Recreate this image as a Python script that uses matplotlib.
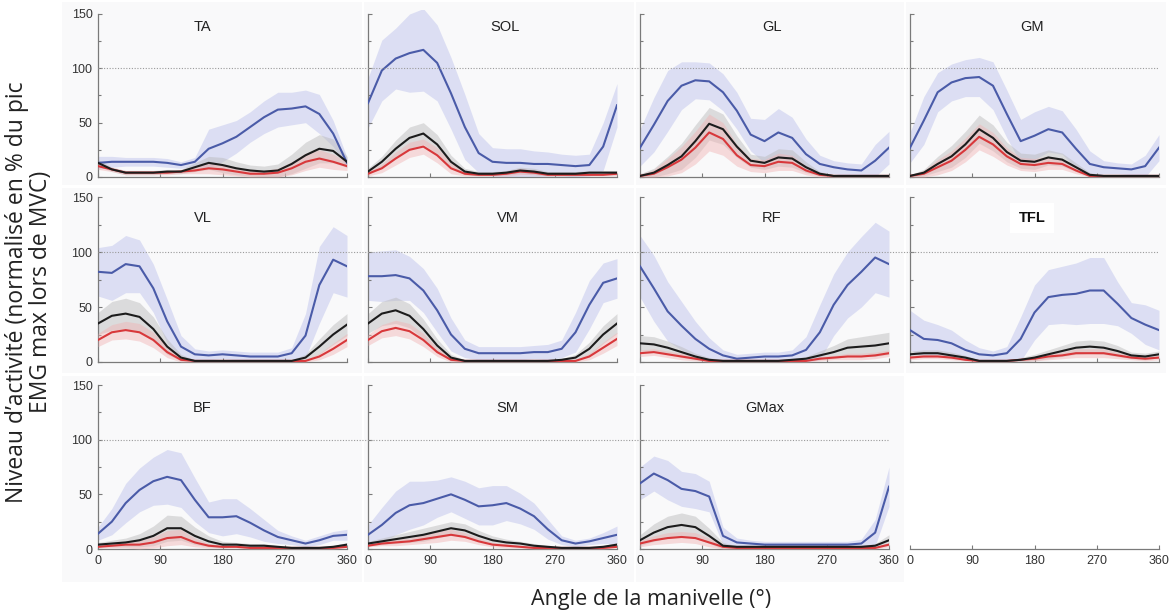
import matplotlib
matplotlib.use("Agg")
import matplotlib.pyplot as plt
from matplotlib.patches import Rectangle
from matplotlib.lines import Line2D
import numpy as np

ANGLE = list(range(0, 361, 20))
MUSCLES = ["TA", "SOL", "GL", "GM", "VL", "VM", "RF", "TFL", "BF", "SM", "GMax"]

TA_blue = [13, 14, 14, 14, 14, 13, 11, 14, 26, 31, 37, 46, 55, 62, 63, 65, 58, 40, 13]
TA_blue_sd = [6, 5, 4, 4, 4, 4, 3, 4, 18, 17, 15, 14, 15, 16, 15, 15, 18, 12, 5]
TA_black = [13, 7, 4, 4, 4, 5, 5, 9, 13, 11, 8, 6, 5, 6, 12, 20, 26, 24, 14]
TA_black_sd = [3, 2, 2, 2, 2, 2, 2, 4, 6, 7, 6, 5, 5, 6, 9, 12, 13, 11, 5]
TA_red = [10, 7, 4, 4, 4, 4, 5, 6, 8, 7, 5, 3, 3, 4, 8, 14, 17, 14, 10]
TA_red_sd = [3, 2, 2, 2, 2, 2, 2, 3, 5, 5, 4, 3, 3, 4, 6, 8, 8, 7, 4]

SOL_blue = [68, 98, 109, 114, 117, 105, 77, 46, 22, 14, 13, 13, 12, 12, 11, 10, 11, 28, 66]
SOL_blue_sd = [23, 28, 28, 36, 38, 35, 33, 30, 18, 13, 13, 13, 12, 11, 10, 10, 10, 22, 20]
SOL_black = [5, 14, 26, 36, 40, 30, 14, 5, 3, 3, 4, 6, 5, 3, 3, 3, 4, 4, 4]
SOL_black_sd = [3, 5, 8, 10, 10, 9, 6, 3, 2, 2, 2, 3, 3, 2, 2, 2, 2, 2, 2]
SOL_red = [3, 8, 17, 25, 28, 20, 8, 3, 2, 2, 3, 5, 4, 2, 2, 2, 2, 2, 3]
SOL_red_sd = [2, 4, 6, 7, 7, 7, 5, 2, 1, 1, 2, 3, 2, 1, 1, 1, 1, 1, 2]

GL_blue = [27, 48, 70, 84, 89, 88, 78, 61, 39, 33, 41, 36, 21, 12, 9, 7, 6, 15, 27]
GL_blue_sd = [17, 25, 28, 22, 17, 17, 17, 17, 15, 20, 22, 19, 14, 8, 6, 6, 6, 15, 15]
GL_black = [1, 4, 11, 19, 33, 49, 44, 28, 15, 13, 18, 17, 9, 3, 1, 1, 1, 1, 1]
GL_black_sd = [2, 4, 8, 12, 15, 15, 14, 10, 6, 6, 8, 8, 5, 2, 1, 1, 1, 1, 1]
GL_red = [1, 3, 9, 16, 27, 41, 35, 20, 11, 10, 14, 13, 6, 2, 1, 1, 1, 1, 1]
GL_red_sd = [1, 4, 8, 12, 15, 17, 15, 10, 6, 6, 8, 7, 4, 2, 1, 1, 1, 1, 1]

GM_blue = [27, 52, 78, 87, 91, 92, 84, 58, 33, 38, 44, 41, 26, 12, 9, 8, 7, 10, 27]
GM_blue_sd = [14, 22, 18, 17, 17, 18, 22, 22, 20, 22, 21, 20, 18, 12, 6, 5, 5, 10, 12]
GM_black = [1, 4, 12, 19, 30, 44, 36, 23, 15, 14, 18, 16, 9, 2, 1, 1, 1, 1, 1]
GM_black_sd = [1, 3, 7, 10, 12, 13, 12, 9, 7, 7, 7, 6, 4, 2, 1, 1, 1, 1, 1]
GM_red = [1, 3, 9, 15, 25, 37, 30, 19, 12, 11, 13, 12, 6, 1, 1, 1, 1, 1, 1]
GM_red_sd = [1, 3, 7, 9, 11, 12, 11, 8, 6, 6, 6, 5, 3, 1, 1, 1, 1, 1, 1]

VL_blue = [82, 81, 89, 87, 67, 37, 14, 7, 6, 7, 6, 5, 5, 5, 8, 24, 70, 93, 87]
VL_blue_sd = [22, 25, 26, 24, 22, 20, 10, 5, 4, 4, 4, 4, 4, 4, 5, 20, 35, 30, 28]
VL_black = [35, 42, 44, 41, 30, 14, 4, 1, 1, 1, 1, 1, 1, 1, 1, 4, 14, 25, 34]
VL_black_sd = [10, 13, 14, 13, 11, 7, 3, 1, 1, 1, 1, 1, 1, 1, 1, 3, 7, 9, 10]
VL_red = [20, 27, 29, 27, 20, 9, 2, 1, 1, 1, 1, 1, 1, 1, 1, 1, 5, 12, 20]
VL_red_sd = [6, 7, 8, 8, 7, 5, 2, 1, 1, 1, 1, 1, 1, 1, 1, 1, 3, 5, 6]

VM_blue = [78, 78, 79, 76, 65, 47, 25, 12, 8, 8, 8, 8, 9, 9, 12, 27, 52, 72, 76]
VM_blue_sd = [22, 23, 23, 20, 20, 20, 15, 8, 6, 6, 6, 6, 6, 7, 8, 18, 22, 18, 18]
VM_black = [35, 44, 47, 42, 30, 15, 4, 1, 1, 1, 1, 1, 1, 1, 2, 4, 12, 25, 35]
VM_black_sd = [9, 11, 12, 11, 9, 6, 3, 1, 1, 1, 1, 1, 1, 1, 1, 3, 6, 8, 9]
VM_red = [20, 28, 31, 28, 20, 9, 2, 1, 1, 1, 1, 1, 1, 1, 1, 1, 5, 13, 21]
VM_red_sd = [5, 6, 7, 7, 6, 4, 2, 1, 1, 1, 1, 1, 1, 1, 1, 1, 3, 5, 6]

RF_blue = [87, 67, 46, 33, 21, 12, 6, 3, 4, 5, 5, 6, 11, 27, 52, 70, 82, 95, 89]
RF_blue_sd = [28, 30, 27, 22, 16, 10, 5, 4, 4, 4, 4, 5, 12, 25, 28, 30, 32, 32, 30]
RF_black = [17, 16, 13, 9, 5, 2, 1, 1, 1, 1, 1, 2, 3, 6, 9, 13, 14, 15, 17]
RF_black_sd = [7, 7, 6, 5, 3, 2, 1, 1, 1, 1, 1, 1, 2, 4, 6, 8, 9, 10, 10]
RF_red = [8, 9, 7, 5, 3, 1, 1, 1, 1, 1, 1, 1, 1, 3, 4, 5, 5, 6, 8]
RF_red_sd = [3, 3, 3, 3, 2, 1, 1, 1, 1, 1, 1, 1, 1, 2, 2, 3, 3, 3, 3]

TFL_blue = [29, 21, 20, 17, 11, 7, 6, 8, 21, 45, 59, 61, 62, 65, 65, 53, 40, 34, 29]
TFL_blue_sd = [18, 17, 14, 12, 9, 6, 4, 6, 20, 25, 25, 26, 28, 30, 30, 20, 14, 18, 18]
TFL_black = [7, 8, 8, 6, 4, 1, 1, 1, 2, 4, 7, 10, 13, 14, 13, 10, 6, 5, 7]
TFL_black_sd = [3, 3, 3, 3, 2, 1, 1, 1, 2, 3, 4, 5, 6, 6, 6, 5, 3, 3, 3]
TFL_red = [4, 5, 5, 4, 2, 1, 1, 1, 2, 3, 5, 6, 8, 8, 8, 6, 4, 3, 4]
TFL_red_sd = [2, 2, 2, 2, 1, 1, 1, 1, 1, 2, 3, 3, 4, 4, 4, 3, 2, 2, 2]

BF_blue = [14, 25, 42, 54, 62, 66, 63, 45, 29, 29, 30, 24, 17, 11, 8, 5, 8, 12, 13]
BF_blue_sd = [6, 12, 18, 20, 22, 25, 25, 20, 14, 17, 16, 13, 10, 6, 4, 3, 4, 4, 5]
BF_black = [4, 5, 6, 8, 12, 19, 19, 12, 7, 4, 4, 3, 3, 2, 1, 1, 1, 2, 4]
BF_black_sd = [2, 3, 4, 6, 9, 12, 11, 8, 5, 3, 2, 2, 2, 1, 1, 1, 1, 1, 2]
BF_red = [2, 3, 4, 4, 6, 10, 11, 6, 3, 2, 2, 1, 1, 1, 1, 1, 1, 1, 2]
BF_red_sd = [1, 2, 3, 4, 5, 7, 7, 4, 2, 1, 1, 1, 1, 1, 1, 1, 1, 1, 1]

SM_blue = [13, 22, 33, 40, 42, 46, 50, 45, 39, 40, 42, 37, 30, 18, 8, 5, 7, 10, 13]
SM_blue_sd = [9, 16, 20, 22, 20, 17, 16, 17, 17, 18, 16, 14, 12, 9, 4, 3, 3, 5, 8]
SM_black = [5, 7, 9, 11, 13, 16, 19, 17, 12, 8, 6, 5, 3, 2, 1, 1, 1, 2, 4]
SM_black_sd = [2, 3, 4, 5, 6, 6, 6, 6, 5, 4, 3, 2, 2, 1, 1, 1, 1, 1, 2]
SM_red = [3, 5, 6, 7, 9, 11, 13, 11, 7, 4, 3, 2, 1, 1, 1, 1, 1, 1, 2]
SM_red_sd = [1, 2, 3, 3, 4, 5, 5, 4, 3, 2, 2, 1, 1, 1, 1, 1, 1, 1, 1]

GMax_blue = [60, 69, 63, 55, 53, 48, 12, 6, 5, 4, 4, 4, 4, 4, 4, 4, 5, 15, 57]
GMax_blue_sd = [15, 16, 18, 16, 16, 14, 8, 4, 3, 3, 3, 3, 3, 3, 3, 3, 4, 12, 18]
GMax_black = [8, 15, 20, 22, 20, 12, 3, 2, 2, 2, 2, 2, 2, 2, 2, 2, 2, 3, 8]
GMax_black_sd = [5, 8, 10, 11, 10, 7, 3, 1, 1, 1, 1, 1, 1, 1, 1, 1, 1, 2, 5]
GMax_red = [5, 8, 10, 11, 10, 6, 2, 1, 1, 1, 1, 1, 1, 1, 1, 1, 1, 1, 4]
GMax_red_sd = [3, 4, 5, 5, 5, 4, 2, 1, 1, 1, 1, 1, 1, 1, 1, 1, 1, 1, 2]

SERIES = {
    "TA": (TA_blue, TA_blue_sd, TA_black, TA_black_sd, TA_red, TA_red_sd),
    "SOL": (SOL_blue, SOL_blue_sd, SOL_black, SOL_black_sd, SOL_red, SOL_red_sd),
    "GL": (GL_blue, GL_blue_sd, GL_black, GL_black_sd, GL_red, GL_red_sd),
    "GM": (GM_blue, GM_blue_sd, GM_black, GM_black_sd, GM_red, GM_red_sd),
    "VL": (VL_blue, VL_blue_sd, VL_black, VL_black_sd, VL_red, VL_red_sd),
    "VM": (VM_blue, VM_blue_sd, VM_black, VM_black_sd, VM_red, VM_red_sd),
    "RF": (RF_blue, RF_blue_sd, RF_black, RF_black_sd, RF_red, RF_red_sd),
    "TFL": (TFL_blue, TFL_blue_sd, TFL_black, TFL_black_sd, TFL_red, TFL_red_sd),
    "BF": (BF_blue, BF_blue_sd, BF_black, BF_black_sd, BF_red, BF_red_sd),
    "SM": (SM_blue, SM_blue_sd, SM_black, SM_black_sd, SM_red, SM_red_sd),
    "GMax": (GMax_blue, GMax_blue_sd, GMax_black, GMax_black_sd, GMax_red, GMax_red_sd),
}

XTICKS = [0, 90, 180, 270, 360]
YTICKS = [0, 50, 100, 150]
XLABEL = "Angle de la manivelle (°)"
YLABEL = "Niveau d’activité (normalisé en % du pic\nEMG max lors de MVC)"

W, H = 1173, 611
fig = plt.figure(figsize=(W / 100, H / 100), dpi=100)
fig.patch.set_facecolor("white")

COL_L = [98, 368, 640, 910]
AX_W = 249
ROWS = [(14, 177), (197, 362), (385, 549)]
PANEL_X = [(62, 362), (364, 634), (636, 904), (906, 1166)]
PANEL_Y = [(2, 185), (188, 373), (376, 582)]
TITLE_FX = {"TA": 0.42, "SOL": 0.55, "GL": 0.53, "GM": 0.49, "VL": 0.42, "VM": 0.56,
            "RF": 0.53, "TFL": 0.49, "BF": 0.42, "SM": 0.56, "GMax": 0.50}
TITLE_Y = [138, 131, 129]

BG = "#f9f9fa"
C_BLUE, C_BLUE_B = "#4a5ba8", "#c9cdef"
C_BLK, C_BLK_B = "#1c1c1c", "#b8b8b8"
C_RED, C_RED_B = "#d8383b", "#f1b3b3"
SPINE = "#7a7a7a"
TICKFONT = dict(family="Liberation Sans", size=9, color="#333333")


def add_rect(px0, px1, py0, py1, color):
    fig.patches.append(Rectangle((px0 / W, 1 - py1 / H), (px1 - px0) / W, (py1 - py0) / H,
                                 transform=fig.transFigure, facecolor=color, edgecolor="none",
                                 zorder=-10))


def make_axes(left, top150, zero):
    ppu = (zero - top150) / 150.0
    b = zero + 2 * ppu
    t = top150 - 4 * ppu
    ax = fig.add_axes([left / W, 1 - b / H, AX_W / W, (b - t) / H])
    ax.set_xlim(0, 360)
    ax.set_ylim(-2, 154)
    ax.set_facecolor("none")
    for s in ("top", "right"):
        ax.spines[s].set_visible(False)
    for s in ("left", "bottom"):
        ax.spines[s].set_color(SPINE)
        ax.spines[s].set_linewidth(0.9)
    ax.spines["left"].set_bounds(0, 150)
    ax.spines["bottom"].set_bounds(0, 360)
    ax.spines["bottom"].set_position(("data", 0))
    ax.set_xticks(XTICKS)
    ax.set_yticks(YTICKS)
    ax.set_yticks([25, 75, 125], minor=True)
    ax.tick_params(axis="both", which="both", direction="in", length=3, color=SPINE, width=0.8,
                   pad=4)
    ax.tick_params(axis="y", which="minor", length=2)
    return ax


# panel backgrounds
for r, (py0, py1) in enumerate(PANEL_Y):
    for c, (px0, px1) in enumerate(PANEL_X):
        if r == 2 and c == 3:
            continue
        add_rect(px0, px1, py0, py1, BG)

for i, m in enumerate(MUSCLES):
    r, c = divmod(i, 4)
    top150, zero = ROWS[r]
    ax = make_axes(COL_L[c], top150, zero)
    blue, blue_sd, blk, blk_sd, red, red_sd = [np.array(v, float) for v in SERIES[m]]
    x = np.array(ANGLE, float)
    ax.fill_between(x, np.clip(blue - blue_sd, 0, None), blue + blue_sd, color=C_BLUE_B,
                    alpha=0.6, lw=0, zorder=1)
    ax.fill_between(x, np.clip(blk - blk_sd, 0, None), blk + blk_sd, color=C_BLK_B,
                    alpha=0.45, lw=0, zorder=2)
    ax.fill_between(x, np.clip(red - red_sd, 0, None), red + red_sd, color=C_RED_B,
                    alpha=0.45, lw=0, zorder=3)
    ax.plot(x, blue, color=C_BLUE, lw=1.5, zorder=5)
    ax.plot(x, red, color=C_RED, lw=1.5, zorder=6)
    ax.plot(x, blk, color=C_BLK, lw=1.5, zorder=7)

    if c == 0:
        ax.set_yticklabels([str(v) for v in YTICKS], **TICKFONT)
    else:
        ax.set_yticklabels([])
    if r == 2:
        ax.set_xticklabels([str(v) for v in XTICKS], **TICKFONT)
    else:
        ax.set_xticklabels([])

    if m == "TFL":
        ax.text(TITLE_FX[m] * 360, TITLE_Y[r], m, ha="center", va="center",
                family="Liberation Sans", fontsize=10.5, fontweight="bold", color="#111111",
                bbox=dict(facecolor="white", edgecolor="none", pad=6), zorder=10)
    else:
        ax.text(TITLE_FX[m] * 360, TITLE_Y[r], m, ha="center", va="center",
                family="Liberation Sans", fontsize=10.5, color="#222222", zorder=10)

# empty bottom-right cell: only the x axis
top150, zero = ROWS[2]
ax = make_axes(COL_L[3], top150, zero)
ax.spines["left"].set_visible(False)
ax.set_yticks([])
ax.set_yticks([], minor=True)
ax.set_xticklabels([str(v) for v in XTICKS], **TICKFONT)

# dotted 100% reference lines across each row
row_ends = [COL_L[3] + AX_W, COL_L[3] + AX_W, COL_L[2] + AX_W]
for r, (top150, zero) in enumerate(ROWS):
    y100 = zero - (zero - top150) * 100 / 150.0
    fig.add_artist(Line2D([COL_L[0] / W, row_ends[r] / W], [1 - y100 / H, 1 - y100 / H],
                          transform=fig.transFigure, color="#9a9a9a", lw=0.8,
                          linestyle=(0, (1, 1.5)), zorder=4))

fig.text(651 / W, 1 - 599 / H, XLABEL, ha="center", va="center", family="Open Sans",
         fontsize=15.5, color="#222222")
fig.text(29 / W, 1 - 292 / H, YLABEL, ha="center", va="center", rotation=90,
         family="Open Sans", fontsize=16.5, color="#222222", linespacing=1.0,
         multialignment="center")

fig.savefig("out.png", dpi=100, facecolor="white")
